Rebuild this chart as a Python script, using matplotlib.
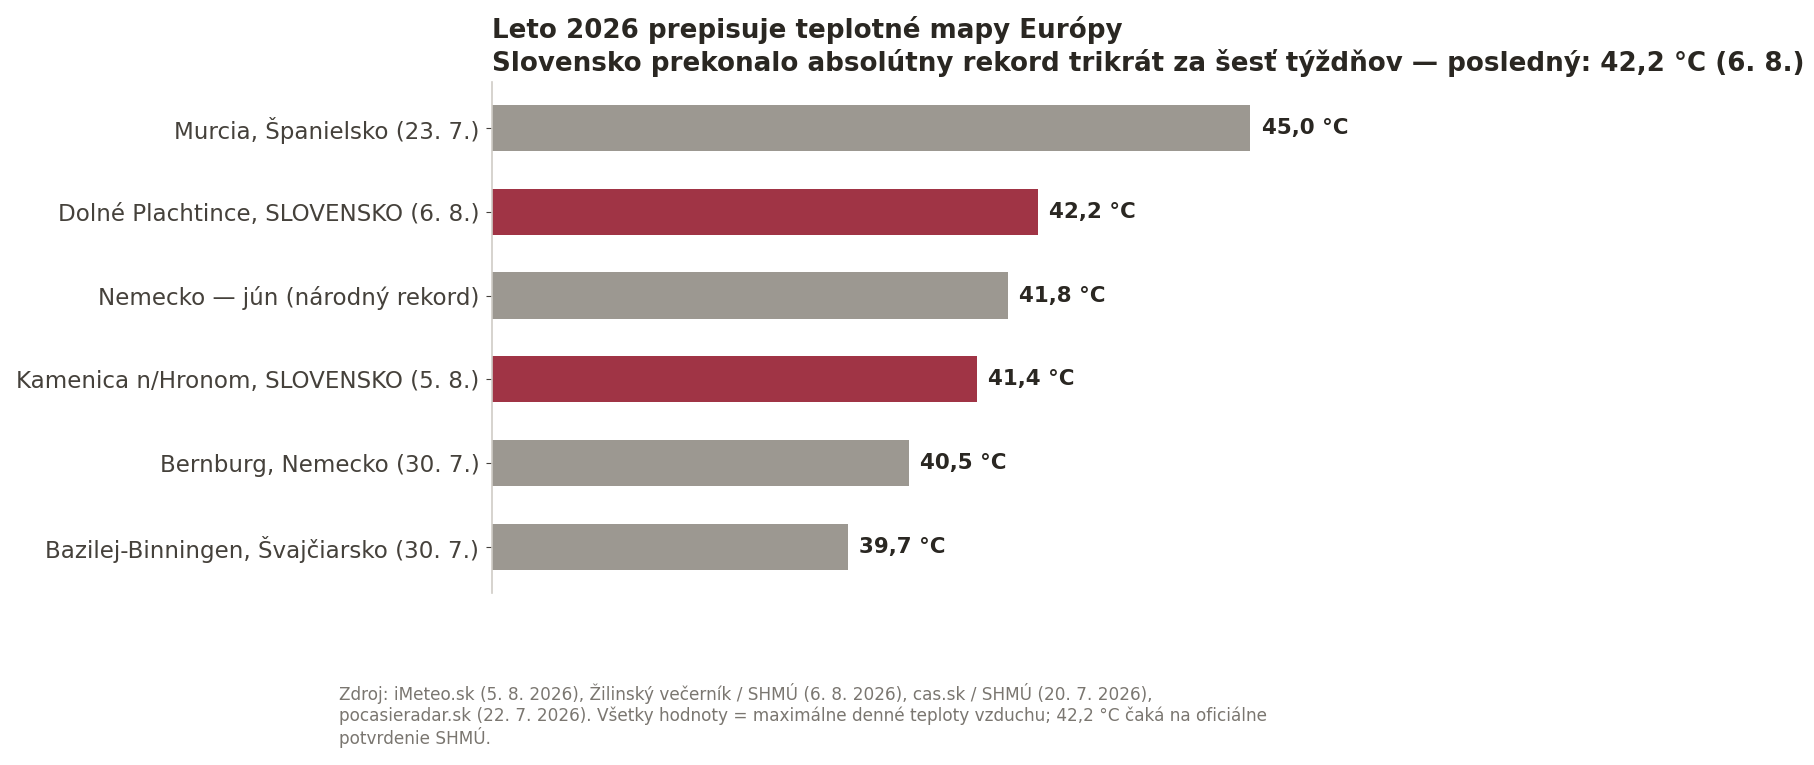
import matplotlib
matplotlib.use("Agg")
import matplotlib.pyplot as plt

categories = [
    "Murcia, Španielsko (23. 7.)",
    "Dolné Plachtince, SLOVENSKO (6. 8.)",
    "Nemecko — jún (národný rekord)",
    "Kamenica n/Hronom, SLOVENSKO (5. 8.)",
    "Bernburg, Nemecko (30. 7.)",
    "Bazilej-Binningen, Švajčiarsko (30. 7.)",
]
values = [45.0, 42.2, 41.8, 41.4, 40.5, 39.7]
labels = ["45,0 °C", "42,2 °C", "41,8 °C", "41,4 °C", "40,5 °C", "39,7 °C"]
highlight = [False, True, False, True, False, False]

GRAY = "#9c9891"
RED = "#a03445"
TEXT = "#2a2722"

fig = plt.figure(figsize=(18.15, 7.65), dpi=100)
ax = fig.add_axes([0.271, 0.225, 0.629, 0.668])

ypos = list(range(len(categories)))
colors = [RED if h else GRAY for h in highlight]
ax.barh(ypos, values, height=0.55, color=colors, left=0)
ax.set_xlim(35, 50.05)
ax.invert_yaxis()
ax.set_yticks(ypos)
ax.set_yticklabels(categories, fontsize=16.6, color="#45413b")
ax.tick_params(axis="y", length=4, color="#45413b", pad=5)
ax.xaxis.set_visible(False)
for s in ["top", "right", "bottom"]:
    ax.spines[s].set_visible(False)
ax.spines["left"].set_color("#cfccc6")
ax.spines["left"].set_linewidth(1.2)

for y, v, lab in zip(ypos, values, labels):
    ax.annotate(lab, (v, y), xytext=(8, 0), textcoords="offset points",
                va="center", ha="left", fontsize=15.4, fontweight="bold", color=TEXT)

ax.set_title("Leto 2026 prepisuje teplotné mapy Európy\n"
             "Slovensko prekonalo absolútny rekord trikrát za šesť týždňov — posledný: 42,2 °C (6. 8.)",
             loc="left", fontsize=18.8, fontweight="bold", color=TEXT, pad=8, linespacing=1.2)

fig.text(0.187, 0.022,
         "Zdroj: iMeteo.sk (5. 8. 2026), Žilinský večerník / SHMÚ (6. 8. 2026), cas.sk / SHMÚ (20. 7. 2026),\n"
         "pocasieradar.sk (22. 7. 2026). Všetky hodnoty = maximálne denné teploty vzduchu; 42,2 °C čaká na oficiálne\n"
         "potvrdenie SHMÚ.",
         fontsize=12.2, color="#7a7670", ha="left", va="bottom", linespacing=1.15)

fig.savefig("out.png", dpi=100, facecolor="white")
